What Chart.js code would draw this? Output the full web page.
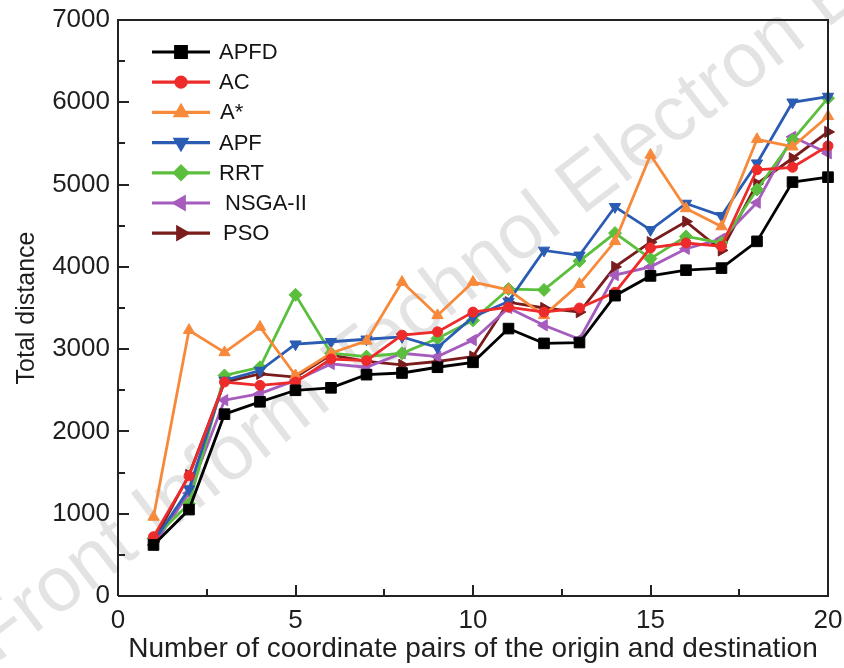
<!DOCTYPE html>
<html><head><meta charset="utf-8">
<script src="https://cdn.jsdelivr.net/npm/chart.js@4.4.1/dist/chart.umd.min.js"></script>
<style>html,body{margin:0;padding:0;background:#fff}</style>
</head><body>
<canvas id="c" width="844" height="668"></canvas>
<script>
// ---- data ----
const xValues = [1,2,3,4,5,6,7,8,9,10,11,12,13,14,15,16,17,18,19,20];
const seriesNames = ['APFD','AC','A*','APF','RRT','NSGA-II','PSO'];
const apfd   = [620,1050,2210,2360,2500,2530,2690,2710,2780,2840,3250,3070,3080,3650,3890,3960,3985,4310,5030,5090];
const ac     = [720,1460,2600,2560,2600,2880,2860,3170,3210,3450,3510,3450,3500,3690,4230,4290,4250,5180,5210,5470];
const aStar  = [960,3230,2960,3270,2680,2950,3100,3815,3410,3815,3720,3410,3790,4310,5360,4710,4490,5550,5460,5830];
const apf    = [660,1300,2620,2740,3060,3090,3120,3150,3020,3390,3580,4200,4140,4730,4450,4770,4620,5260,6000,6070];
const rrt    = [700,1120,2680,2780,3660,2950,2910,2950,3130,3350,3730,3720,4070,4410,4100,4370,4290,4940,5540,6050];
const nsga   = [620,1250,2380,2460,2620,2820,2780,2950,2910,3110,3500,3290,3120,3900,4000,4220,4340,4780,5580,5380];
const pso    = [660,1470,2600,2700,2660,2930,2850,2810,2850,2910,3570,3500,3450,4000,4300,4550,4200,5010,5320,5640];
const xTickValues = [0,5,10,15,20];
const yTickValues = [0,1000,2000,3000,4000,5000,6000,7000];
const xTitle = 'Number of coordinate pairs of the origin and destination';
const yTitle = 'Total distance';
const watermark = 'Front Inform Technol Electron Eng';

// ---- styles ----
const seriesValues = [apfd, ac, aStar, apf, rrt, nsga, pso];
const colors = ['#000000','#ee2b2b','#f7893a','#2a5cb4','#5bbf3d','#a65cbd','#7a1c1c'];
const styles = [
  {ps:'rect', r:7.5, rot:0},
  {ps:'circle', r:5, rot:0},
  {ps:'triangle', r:6.5, rot:0},
  {ps:'triangle', r:6.5, rot:180},
  {ps:'rectRot', r:6.5, rot:0},
  {ps:'triangle', r:6.5, rot:-90},
  {ps:'triangle', r:6.5, rot:90}
];
const FONT = '"Liberation Sans", Arial, sans-serif';
Chart.defaults.font.family = FONT;
Chart.defaults.color = '#1e1e1e';

const datasets = seriesNames.map((name, i) => ({
  label: name,
  data: xValues.map((x, j) => ({x: x, y: seriesValues[i][j]})),
  borderColor: colors[i],
  backgroundColor: colors[i],
  pointBackgroundColor: colors[i],
  pointBorderColor: colors[i],
  pointStyle: styles[i].ps,
  pointRadius: styles[i].r,
  pointRotation: styles[i].rot,
  pointBorderWidth: 1,
  borderWidth: 2.8,
  tension: 0,
  clip: false
}));

const watermarkPlugin = {
  id: 'wm',
  beforeDatasetsDraw(chart) {
    const ctx = chart.ctx;
    ctx.save();
    ctx.translate(-4, 664);
    ctx.rotate(-37.4 * Math.PI / 180);
    ctx.font = '78px ' + FONT;
    ctx.fillStyle = 'rgba(0,0,0,0.11)';
    ctx.textBaseline = 'alphabetic';
    ctx.fillText(watermark, 0, 0);
    ctx.restore();
  }
};

const frameTicksPlugin = {
  id: 'frameTicks',
  afterDraw(chart) {
    const ctx = chart.ctx, a = chart.chartArea;
    const xs = chart.scales.x, ys = chart.scales.y;
    ctx.save();
    ctx.strokeStyle = '#222';
    ctx.lineWidth = 2;
    ctx.beginPath();
    ctx.moveTo(a.left, a.bottom); ctx.lineTo(a.left, a.top); ctx.lineTo(a.right, a.top); ctx.lineTo(a.right, a.bottom); ctx.lineTo(a.left, a.bottom);
    ctx.stroke();
    ctx.beginPath();
    for (let v = xs.min; v <= xs.max + 1e-9; v += 2.5) {
      const px = Math.round(xs.getPixelForValue(v));
      const len = (Math.abs(v % 5) < 1e-9) ? 11 : 7;
      ctx.moveTo(px, a.bottom); ctx.lineTo(px, a.bottom - len);
    }
    for (let v = ys.min; v <= ys.max + 1e-9; v += 500) {
      const py = Math.round(ys.getPixelForValue(v));
      const len = (Math.abs(v % 1000) < 1e-9) ? 11 : 7;
      ctx.moveTo(a.left, py); ctx.lineTo(a.left + len, py);
    }
    ctx.stroke();
    ctx.restore();
  }
};

const legendPlugin = {
  id: 'customLegend',
  afterDatasetsDraw(chart) {
    const ctx = chart.ctx;
    const x0 = 152, x1 = 210, tx = 219, y0 = 52, dy = 30.2;
    const txOff = [0,0,1,0,0,6,4];
    ctx.save();
    chart.data.datasets.forEach((ds, i) => {
      const y = y0 + i * dy;
      ctx.strokeStyle = ds.borderColor;
      ctx.lineWidth = 3.2;
      ctx.beginPath(); ctx.moveTo(x0, y); ctx.lineTo(x1, y); ctx.stroke();
      ctx.fillStyle = ds.backgroundColor;
      Chart.helpers.drawPoint(ctx, {pointStyle: ds.pointStyle, radius: ds.pointRadius, rotation: ds.pointRotation, borderWidth: 1}, (x0 + x1) / 2, y);
      ctx.fillStyle = '#151515';
      ctx.font = '22px ' + FONT;
      ctx.textBaseline = 'middle';
      ctx.textAlign = 'left';
      ctx.fillText(ds.label, tx + txOff[i], y + 1);
    });
    ctx.restore();
  }
};

new Chart(document.getElementById('c'), {
  type: 'line',
  data: { datasets },
  plugins: [watermarkPlugin, frameTicksPlugin, legendPlugin],
  options: {
    responsive: false,
    animation: false,
    devicePixelRatio: 1,
    layout: { padding: { top: 20, right: 0, left: 0, bottom: 0 } },
    plugins: { legend: { display: false }, tooltip: { enabled: false } },
    scales: {
      x: {
        type: 'linear', min: 0, max: 20,
        afterBuildTicks(s) { s.ticks = xTickValues.map(v => ({value: v})); },
        afterFit(s) { s.height = 72; s.paddingRight = 16; s.paddingLeft = 0; },
        grid: { display: false, drawTicks: false },
        border: { display: false },
        ticks: { font: { size: 26 }, padding: 9, maxRotation: 0, color: '#1e1e1e' },
        title: { display: true, text: xTitle, font: { size: 28 }, color: '#1e1e1e', padding: { top: 0, bottom: 2 } }
      },
      y: {
        type: 'linear', min: 0, max: 7000,
        afterBuildTicks(s) { s.ticks = yTickValues.map(v => ({value: v})); },
        afterFit(s) { s.width = 118; s.paddingTop = 0; s.paddingBottom = 0; },
        grid: { display: false, drawTicks: false },
        border: { display: false },
        ticks: { font: { size: 26 }, padding: 8, color: '#1e1e1e', callback: v => String(v) },
        title: { display: true, text: yTitle, font: { size: 25 }, color: '#1e1e1e', padding: { top: 12, bottom: 0 } }
      }
    }
  }
});
</script>
</body></html>
